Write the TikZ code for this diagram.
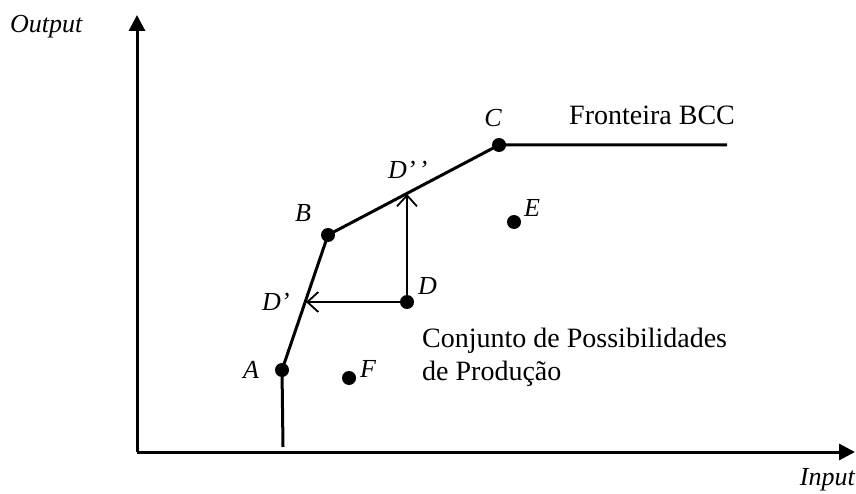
\documentclass[tikz,border=0pt]{standalone}
\usepackage{fontspec}
\setmainfont{Liberation Serif}
\usetikzlibrary{arrows.meta}
\begin{document}
\begin{tikzpicture}[x=1pt,y=-1pt,
  dot/.style={circle,fill=black,inner sep=0pt,minimum size=14pt},
  lbl/.style={font=\fontsize{26}{30}\selectfont\itshape,inner sep=0pt,anchor=base west},
  txt/.style={font=\fontsize{28}{32}\selectfont,inner sep=0pt,anchor=base west},
  axis/.style={line width=3pt,-{Triangle[length=16pt,width=16pt]}},
  front/.style={line width=3pt},
  move/.style={line width=1.8pt,-{Straight Barb[length=11pt,width=20pt,line width=1.8pt]}}]
\useasboundingbox (0,0) rectangle (856,494);
% axes
\coordinate (O) at (137,452);
\coordinate (ytop) at (137,15);
\coordinate (xend) at (855,452);
\draw[axis] (O) -- (ytop);
\draw[axis] (O) -- (xend);
% points
\node[dot] (A) at (282,370) {};
\node[dot] (B) at (328,235) {};
\node[dot] (C) at (499,145) {};
\node[dot] (D) at (407,302) {};
\node[dot] (E) at (514,222) {};
\node[dot] (F) at (349,378) {};
\coordinate (Abot) at (283,447);
\coordinate (Cend) at (727,145);
\coordinate (Dp) at (306,302);
\coordinate (Dpp) at (407,194);
% frontier
\draw[front] (Abot) -- (A.center) -- (B.center) -- (C.center) -- (Cend);
% projections
\draw[move] (D.center) -- (Dp);
\draw[move] (D.center) -- (Dpp);
% labels
\node[lbl] (lout) at (10,33) {Output};
\node[lbl,anchor=base east] (lin) at (855,485) {Input};
\node[lbl,anchor=base] (lC) at (493,127) {C};
\node[lbl] (lDpp) at (388,179) {D’\kern3pt’};
\node[lbl] (lB) at (295,222) {B};
\node[lbl] (lE) at (524,217) {E};
\node[lbl] (lD) at (418,294) {D};
\node[lbl] (lDp) at (262,310) {D’};
\node[lbl] (lA) at (243,378) {A};
\node[lbl] (lF) at (360,377) {F};
\node[txt] (lfront) at (569,125) {Fronteira BCC};
\node[txt] (lcpp1) at (422,347) {Conjunto de Possibilidades};
\node[txt] (lcpp2) at (422,380) {de Produção};
\end{tikzpicture}
\end{document}
